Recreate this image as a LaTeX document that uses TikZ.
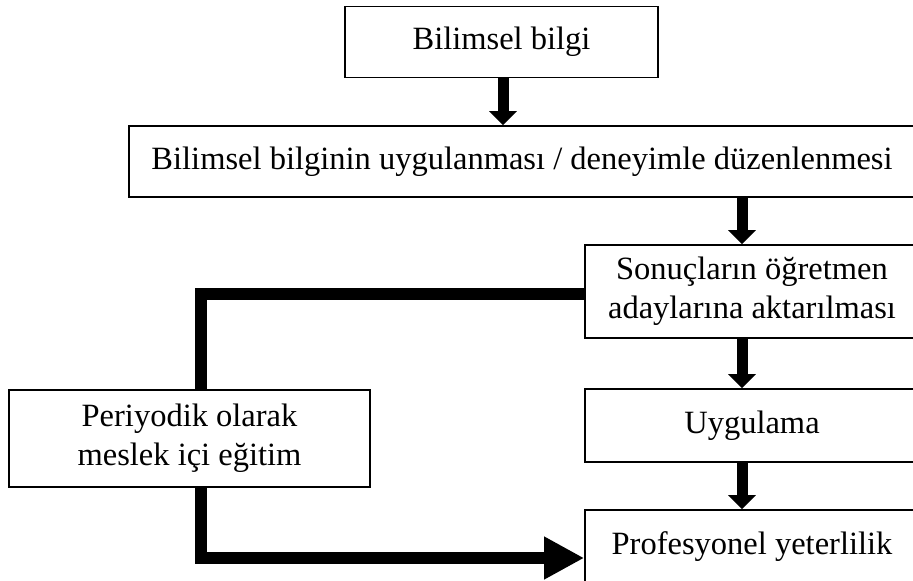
\documentclass[tikz,border=0pt]{standalone}
\usepackage{fontspec}
\setmainfont{Liberation Serif}
\usetikzlibrary{arrows.meta}
\begin{document}
\begin{tikzpicture}[x=1pt,y=-1pt,
  box/.style={draw=black,line width=1.6pt,inner sep=0pt,align=center,
    font=\fontsize{32.5}{39}\selectfont},
  flow/.style={line width=11pt,-{Triangle[width=27pt,length=14pt]}},
  loop/.style={line width=12pt,line join=miter},
  loopend/.style={line width=12pt,line join=miter,-{Triangle[width=40pt,length=40pt]}}]
\useasboundingbox (0,0) rectangle (913,581);
\clip (0,0) rectangle (913,581);
% boxes
\node[box,minimum width=313pt,minimum height=71pt] (b1) at (501.5,42) {Bilimsel bilgi};
\node[box,minimum width=786pt,minimum height=71pt] (b2) at (522,161.5) {Bilimsel bilginin uygulanması / deneyimle düzenlenmesi};
\node[box,minimum width=334pt,minimum height=93pt] (b3) at (752,291.5) {Sonuçların öğretmen\\adaylarına aktarılması};
\node[box,minimum width=361pt,minimum height=97pt] (b4) at (189.5,438.5) {Periyodik olarak\\meslek içi eğitim};
\node[box,minimum width=334pt,minimum height=73pt] (b5) at (752,425.5) {Uygulama};
\node[box,minimum width=334pt,minimum height=74pt] (b6) at (752,547) {Profesyonel yeterlilik};
% main chain
\draw[flow] ([xshift=1.5pt]b1.south) -- ([xshift=1.5pt]b1.south |- b2.north);
\draw[flow] ([xshift=-10pt]b3.north |- b2.south) -- ([xshift=-10pt]b3.north);
\draw[flow] ([xshift=-10pt]b3.south) -- ([xshift=-10pt]b5.north);
\draw[flow] ([xshift=-10pt]b5.south) -- ([xshift=-10pt]b6.north);
% in-service training loop
\draw[loop] ([yshift=-2.5pt]b3.west) -| ([xshift=11pt]b4.north);
\draw[loopend] ([xshift=11pt]b4.south) |- ([yshift=-11pt]b6.west);
\end{tikzpicture}
\end{document}
